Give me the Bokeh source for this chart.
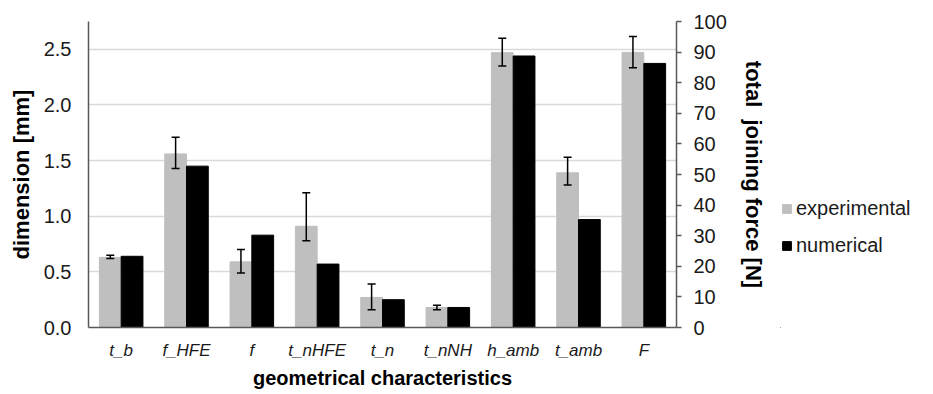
from bokeh.plotting import figure
from bokeh.layouts import row
from bokeh.models import (Range1d, LinearAxis, FactorRange, Whisker, ColumnDataSource,
                          Legend, LegendItem, FixedTicker, TeeHead, NumeralTickFormatter)
from bokeh.transform import dodge
from bokeh.embed import file_html
from bokeh.resources import INLINE

categories = ["t_b", "f_HFE", "f", "t_nHFE", "t_n", "t_nNH", "h_amb", "t_amb", "F"]

# dimension characteristics (left axis, mm)
dim_categories = ["t_b", "f_HFE", "f", "t_nHFE", "t_n", "t_nNH", "h_amb", "t_amb"]
exp_dim = [0.63, 1.56, 0.59, 0.91, 0.27, 0.18, 2.47, 1.39]
exp_dim_lower = [0.62, 1.43, 0.49, 0.78, 0.16, 0.16, 2.35, 1.28]
exp_dim_upper = [0.65, 1.71, 0.70, 1.21, 0.39, 0.20, 2.60, 1.53]
num_dim = [0.64, 1.45, 0.83, 0.57, 0.25, 0.18, 2.44, 0.97]

# force (right axis, N)
force_categories = ["F"]
exp_force = [89.9]
exp_force_lower = [84.9]
exp_force_upper = [95.1]
num_force = [86.3]

series_names = ["experimental", "numerical"]
left_ticks = [0, 0.5, 1.0, 1.5, 2.0, 2.5]
right_ticks = [0, 10, 20, 30, 40, 50, 60, 70, 80, 90, 100]

FONT = "Liberation Sans"
GRAY = "#BFBFBF"
AXIS_COLOR = "#595959"
TXT = "#1a1a1a"

p = figure(width=780, height=394, x_range=FactorRange(*categories),
           y_range=Range1d(0, 2.75), output_backend="svg", toolbar_location=None,
           min_border_left=88, min_border_right=104, min_border_top=21, min_border_bottom=67)
p.extra_y_ranges = {"force": Range1d(0, 100)}
p.outline_line_color = None
p.background_fill_color = "white"
p.border_fill_color = "white"

dim_src = ColumnDataSource(dict(cat=dim_categories, exp=exp_dim, num=num_dim,
                                lower=exp_dim_lower, upper=exp_dim_upper))
force_src = ColumnDataSource(dict(cat=force_categories, exp=exp_force, num=num_force,
                                  lower=exp_force_lower, upper=exp_force_upper))

off = 1 / 6
bw = 1 / 3
p.vbar(x=dodge("cat", -off, range=p.x_range), top="exp", width=bw, source=dim_src,
       fill_color=GRAY, line_color=GRAY)
p.vbar(x=dodge("cat", off, range=p.x_range), top="num", width=bw, source=dim_src,
       fill_color="black", line_color="black")
p.vbar(x=dodge("cat", -off, range=p.x_range), top="exp", width=bw, source=force_src,
       fill_color=GRAY, line_color=GRAY, y_range_name="force")
p.vbar(x=dodge("cat", off, range=p.x_range), top="num", width=bw, source=force_src,
       fill_color="black", line_color="black", y_range_name="force")

for src, rn in ((dim_src, "default"), (force_src, "force")):
    w = Whisker(base=dodge("cat", -off, range=p.x_range), upper="upper", lower="lower",
                source=src, line_color="black", line_width=1.5, level="overlay",
                upper_head=TeeHead(size=8, line_color="black", line_width=1.5),
                lower_head=TeeHead(size=8, line_color="black", line_width=1.5))
    if rn != "default":
        w.y_range_name = rn
    p.add_layout(w)

# left axis
ya = p.yaxis[0]
ya.ticker = FixedTicker(ticks=left_ticks)
ya.formatter = NumeralTickFormatter(format="0.0")
ya.axis_label = "dimension [mm]"
ya.axis_label_text_font = FONT
ya.axis_label_text_font_style = "bold"
ya.axis_label_text_font_size = "22px"
ya.axis_label_text_color = "black"
ya.axis_label_standoff = 7
ya.major_label_text_font = FONT
ya.major_label_text_font_size = "20px"
ya.major_label_text_color = TXT
ya.major_label_standoff = 17
ya.major_tick_out = 0
ya.major_tick_in = 0
ya.minor_tick_out = 0
ya.minor_tick_in = 0
ya.axis_line_color = AXIS_COLOR
ya.axis_line_width = 1.5

# right axis
ra = LinearAxis(y_range_name="force", ticker=FixedTicker(ticks=right_ticks))
ra.axis_label = "total\u00a0 joining force [N]"
ra.axis_label_text_font = FONT
ra.axis_label_text_font_style = "bold"
ra.axis_label_text_font_size = "22px"
ra.axis_label_text_color = "black"
ra.axis_label_standoff = 11
ra.major_label_text_font = FONT
ra.major_label_text_font_size = "20px"
ra.major_label_text_color = TXT
ra.major_label_standoff = 12
ra.major_tick_out = 5
ra.major_tick_in = 0
ra.minor_tick_out = 0
ra.minor_tick_in = 0
ra.major_tick_line_color = AXIS_COLOR
ra.major_tick_line_width = 1.5
ra.axis_line_color = AXIS_COLOR
ra.axis_line_width = 1.5
p.add_layout(ra, "right")

# x axis
xa = p.xaxis[0]
xa.axis_label = "geometrical characteristics"
xa.axis_label_text_font = FONT
xa.axis_label_text_font_style = "bold"
xa.axis_label_text_font_size = "20px"
xa.axis_label_text_color = "black"
xa.axis_label_standoff = 4
xa.major_label_text_font = FONT
xa.major_label_text_font_style = "italic"
xa.major_label_text_font_size = "17px"
xa.major_label_text_color = TXT
xa.major_label_standoff = 13
xa.major_tick_out = 0
xa.major_tick_in = 0
xa.axis_line_color = AXIS_COLOR
xa.axis_line_width = 1.5

p.xgrid.grid_line_color = None
p.ygrid.ticker = FixedTicker(ticks=left_ticks)
p.ygrid.grid_line_color = "#D9D9D9"
p.ygrid.grid_line_width = 1.5

# legend panel (separate figure to the right)
lg = figure(width=153, height=394, x_range=Range1d(0, 1), y_range=Range1d(0, 1),
            output_backend="svg", toolbar_location=None,
            x_axis_location=None, y_axis_location=None,
            min_border=0, min_border_left=0, min_border_right=0,
            min_border_top=0, min_border_bottom=0)
lg.outline_line_color = None
lg.grid.visible = False
lg.background_fill_color = "white"
lg.border_fill_color = "white"
# swatch renderers kept far outside the visible range; only their legend glyphs show
lr_exp = lg.vbar(x=[-1000], top=[-1000], bottom=[-1001], width=0.1,
                 fill_color=GRAY, line_color=GRAY)
lr_num = lg.vbar(x=[-1000], top=[-1000], bottom=[-1001], width=0.1,
                 fill_color="black", line_color="black")

legend = Legend(items=[LegendItem(label=series_names[0], renderers=[lr_exp]),
                       LegendItem(label=series_names[1], renderers=[lr_num])],
                location=(1, 70), orientation="vertical",
                label_text_font=FONT, label_text_font_size="20px", label_text_color=TXT,
                glyph_width=11, glyph_height=11, label_standoff=4, spacing=14,
                border_line_color=None, background_fill_alpha=0, margin=0, padding=4)
lg.add_layout(legend)

layout = row(p, lg)
open("out.html", "w").write(file_html(layout, INLINE))
